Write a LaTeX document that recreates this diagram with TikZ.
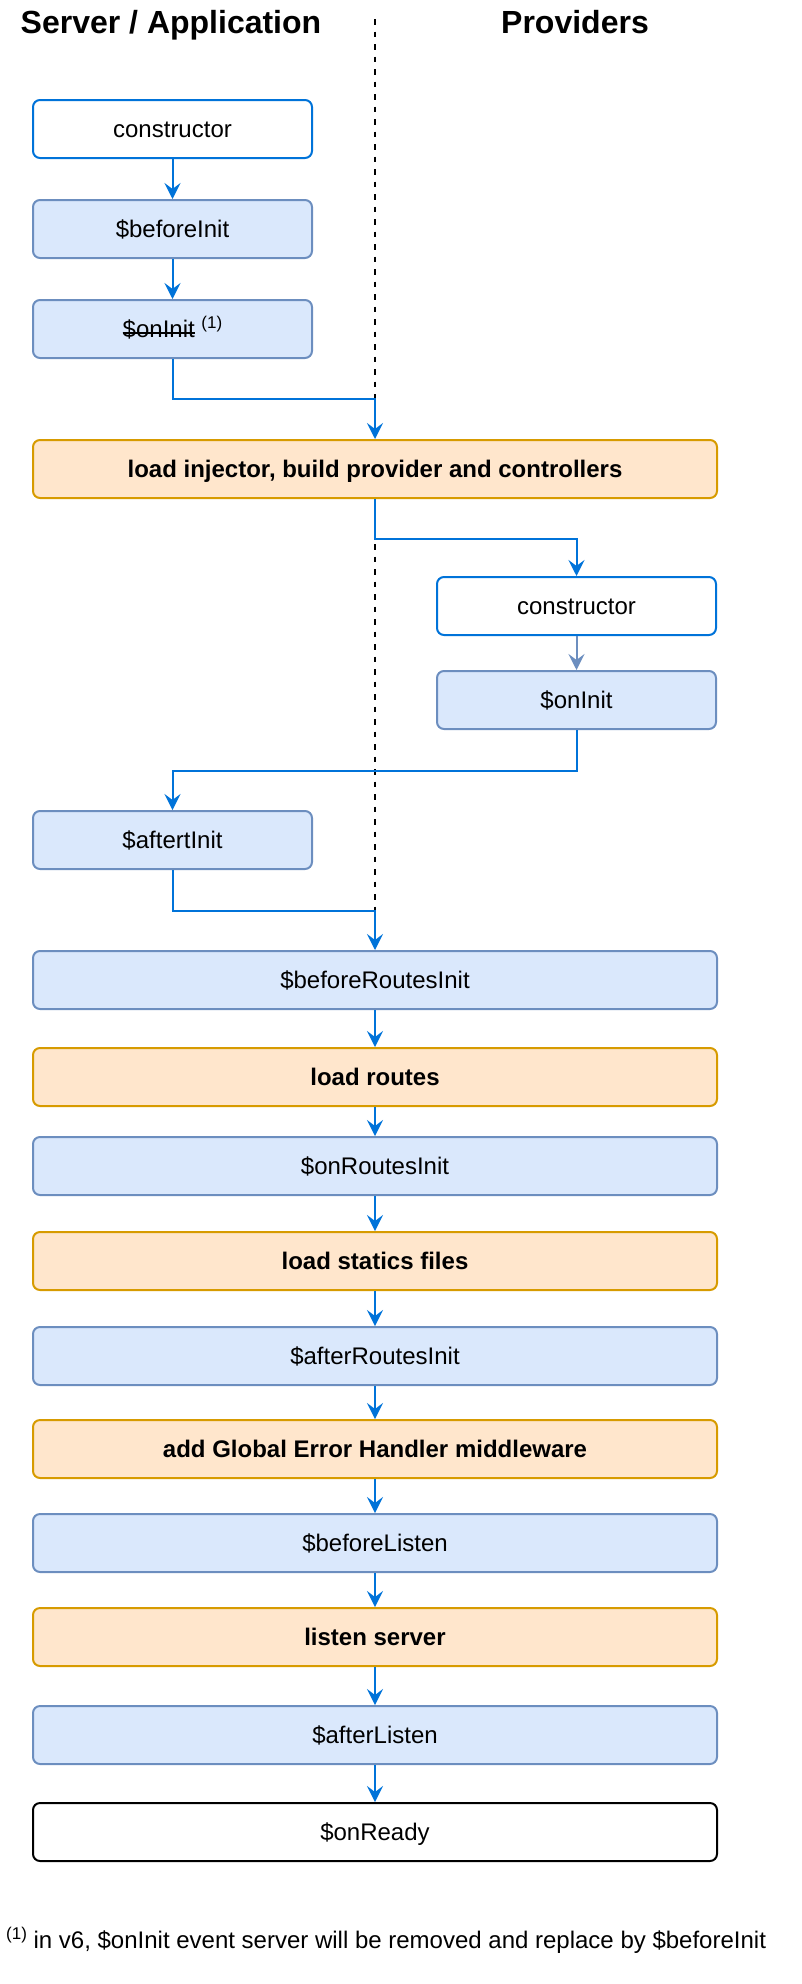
\documentclass[tikz,border=0pt]{standalone}
\usepackage{fontspec}
\setmainfont{Liberation Sans}
\usetikzlibrary{arrows.meta,calc}
\definecolor{FlowClr}{rgb}{0,0.45,0.85}
\definecolor{HookFillClr}{rgb}{0.855,0.91,0.988}
\definecolor{HookDrawClr}{rgb}{0.424,0.557,0.749}
\definecolor{LoadFillClr}{rgb}{1,0.902,0.8}
\definecolor{LoadDrawClr}{rgb}{0.843,0.608,0}

\newcommand{\StrikeOut}[1]{\setbox0\hbox{#1}\rlap{\rule[4pt]{\wd0}{1.6pt}}\box0\relax}
\newcommand{\FnMark}{\raisebox{9pt}{\fontsize{17}{17}\selectfont(1)}}

\begin{document}
\begin{tikzpicture}[x=1pt,y=-1pt,
  box/.style={rounded corners=7pt,line width=2pt,minimum height=58pt,inner sep=0pt,
    text height=17pt,text depth=0pt,font=\fontsize{24}{28}\selectfont},
  narrow/.style={minimum width=279pt},
  wide/.style={minimum width=684pt},
  ctorbox/.style={box,fill=white,draw=FlowClr},
  hookbox/.style={box,fill=HookFillClr,draw=HookDrawClr},
  loadbox/.style={box,fill=LoadFillClr,draw=LoadDrawClr,font=\fontsize{24}{28}\selectfont\bfseries},
  readybox/.style={box,fill=white,draw=black},
  flow/.style={draw=FlowClr,line width=2pt,-{Stealth[length=16pt,width=16pt,inset=6pt]}},
  title/.style={anchor=base,inner sep=0pt,font=\fontsize{32}{36}\selectfont\bfseries}]
\useasboundingbox (0,0) rectangle (802,1984);

\node[title] (srvTitle) at (171,33) {Server / Application};
\node[title] (provTitle) at (575,33) {Providers};

\coordinate (divTop) at (375,19);
\coordinate (divBot) at (375,911);
\draw[black,line width=2pt,dash pattern=on 5.5pt off 7pt] (divTop) -- (divBot);

\node[ctorbox,narrow] (srvCtor) at (172.5,129) {constructor};
\node[hookbox,narrow] (srvBeforeInit) at (172.5,229) {\$beforeInit};
\node[hookbox,narrow] (srvOnInit) at (172.5,329) {\StrikeOut{\$onInit} \FnMark};
\node[loadbox,wide] (injector) at (375,469) {load injector, build provider and controllers};
\node[ctorbox,narrow] (provCtor) at (576.5,606) {constructor};
\node[hookbox,narrow] (provOnInit) at (576.5,700) {\$onInit};
\node[hookbox,narrow] (srvAfterInit) at (172.5,840) {\$aftertInit};
\node[hookbox,wide] (beforeRoutes) at (375,980) {\$beforeRoutesInit};
\node[loadbox,wide] (routes) at (375,1077) {load routes};
\node[hookbox,wide] (onRoutes) at (375,1166) {\$onRoutesInit};
\node[loadbox,wide] (statics) at (375,1261) {load statics files};
\node[hookbox,wide] (afterRoutes) at (375,1356) {\$afterRoutesInit};
\node[loadbox,wide] (errHandler) at (375,1449) {add Global Error Handler middleware};
\node[hookbox,wide] (beforeListen) at (375,1543) {\$beforeListen};
\node[loadbox,wide] (listen) at (375,1637) {listen server};
\node[hookbox,wide] (afterListen) at (375,1735) {\$afterListen};
\node[readybox,wide] (ready) at (375,1832) {\$onReady};

\node[anchor=base west,inner sep=0pt,font=\fontsize{24}{28}\selectfont] (note) at (6,1948)
  {\FnMark{} in v6, \$onInit event server will be removed and replace by \$beforeInit};

\foreach \a/\b in {srvCtor/srvBeforeInit,srvBeforeInit/srvOnInit,beforeRoutes/routes,
  routes/onRoutes,onRoutes/statics,statics/afterRoutes,afterRoutes/errHandler,
  errHandler/beforeListen,beforeListen/listen,listen/afterListen,afterListen/ready}
  \draw[flow] (\a.south) -- (\b.north);
\draw[flow,draw=HookDrawClr] (provCtor.south) -- (provOnInit.north);

\draw[flow] (srvOnInit.south) -- ++(0,40) -| (injector.north);
\draw[flow] (injector.south) -- ++(0,40) -| (provCtor.north);
\draw[flow] (provOnInit.south) -- ++(0,41) -| (srvAfterInit.north);
\draw[flow] (srvAfterInit.south) -- ++(0,41) -| (beforeRoutes.north);

\end{tikzpicture}
\end{document}
